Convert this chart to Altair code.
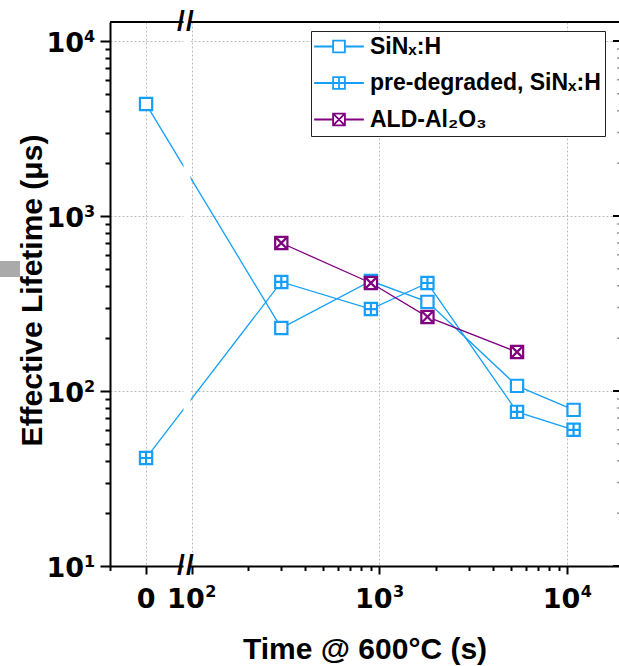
import altair as alt
import pandas as pd
import numpy as np

# ---------------- data ----------------
times = [0, 300, 900, 1800, 5400, 10800]
sinx_tau = [4360, 229, 425, 323, 107, 78]
pre_tau = [41.4, 420, 294, 414, 76, 60]
ald_times = [300, 900, 1800, 5400]
ald_tau = [701, 414, 265, 167]
series_names = ["SiNₓ:H", "pre-degraded, SiNₓ:H", "ALD-Al₂O₃"]
y_major = [10, 100, 1000, 10000]
y_exponents = ["1", "2", "3", "4"]
x_major_t = [100, 1000, 10000]
x_exponents = ["2", "3", "4"]
zero_label = "0"

# ---------------- layout constants ----------------
W, H = 509, 544
ZERO_POS = 1.757          # where t = 0 sits on the broken axis
X_MIN, X_MAX = 1.565, 4.2753
Y_MIN, Y_MAX = 10, 12840
BLUE = "#14A0F8"
PURPLE = "#800080"
FONT = "Liberation Sans"
TFONT = "DejaVu Sans"

rows = []
for t, v in zip(times, sinx_tau):
    rows.append(dict(series=series_names[0], t=t, tau=v))
for t, v in zip(times, pre_tau):
    rows.append(dict(series=series_names[1], t=t, tau=v))
for t, v in zip(ald_times, ald_tau):
    rows.append(dict(series=series_names[2], t=t, tau=v))
df = pd.DataFrame(rows)
df["xpos"] = [ZERO_POS if t == 0 else float(np.log10(t)) for t in df["t"]]

x_major = [ZERO_POS] + [float(np.log10(t)) for t in x_major_t]
x_minor = [X_MIN] + [float(np.log10(k * 10 ** n)) for n in (2, 3) for k in range(2, 10)]
y_minor = [k * 10 ** n for n in (1, 2, 3) for k in range(2, 10)]

x_major_test = "abs(datum.value - %r) < 1e-6 || datum.value == 2 || datum.value == 3 || datum.value == 4" % ZERO_POS
y_major_test = " || ".join("datum.value == %d" % v for v in y_major)

xscale = alt.Scale(domain=[X_MIN, X_MAX], nice=False, zero=False)
yscale = alt.Scale(type="log", domain=[Y_MIN, Y_MAX], nice=False)

xaxis = alt.Axis(
    values=sorted(x_major + x_minor), labels=False,
    tickSize={"condition": {"test": x_major_test, "value": 8}, "value": 4.5},
    grid=True, gridOpacity={"condition": {"test": x_major_test, "value": 1}, "value": 0},
    gridDash=[2, 2], gridColor="#bdbdbd", gridWidth=1,
    domainColor="black", domainWidth=2, tickColor="black", tickWidth=2,
    title="Time @ 600°C (s)", titleFont=FONT, titleFontSize=30, titleFontWeight="bold", titleColor="black",
    titleX=254.5, titleY=92, titleAlign="center", titleBaseline="alphabetic",
)
yaxis = alt.Axis(
    values=sorted(y_major + y_minor), labels=False,
    tickSize={"condition": {"test": y_major_test, "value": 10}, "value": 5},
    grid=True, gridOpacity={"condition": {"test": y_major_test, "value": 1}, "value": 0},
    gridDash=[2, 2], gridColor="#bdbdbd", gridWidth=1,
    domainColor="black", domainWidth=2, tickColor="black", tickWidth=2,
    title="Effective Lifetime (μs)", titleFont=FONT, titleFontSize=30, titleFontWeight="bold", titleColor="black",
    titleX=-69, titleY=268, titleAngle=270, titleAlign="center", titleBaseline="alphabetic",
)

X = alt.X("xpos:Q", scale=xscale, axis=xaxis)
Y = alt.Y("tau:Q", scale=yscale, axis=yaxis)

color_scale = alt.Scale(domain=series_names, range=[BLUE, BLUE, PURPLE])

SQ = "M-1,-1L1,-1L1,1L-1,1Z"
marker_paths = [SQ, SQ + "M0,-1L0,1M-1,0L1,0", SQ + "M-1,-1L1,1M1,-1L-1,1"]
LINE = "M-4.2,0L-1,0M1,0L4.2,0"
legend_paths = [LINE + p for p in marker_paths]
marker_colors = [BLUE, BLUE, PURPLE]

base = alt.Chart(df)

line_layers = []
point_layers = []
for name, path, col in zip(series_names, marker_paths, marker_colors):
    sub = base.transform_filter(alt.datum.series == name)
    line_layers.append(sub.mark_line(color=col, strokeWidth=1.3).encode(x=X, y=Y))
    point_layers.append(
        sub.mark_point(shape=path, size=150, filled=True, fill="white", fillOpacity=1,
                       stroke=col, strokeWidth=2.2, opacity=1)
        .encode(x=X, y=Y)
    )

legend_common = dict(
    orient="none", legendX=201, legendY=9, direction="vertical", title=None,
    padding=4, symbolOffset=12.5, labelOffset=19.5, rowPadding=12.5,
    strokeColor="#222222", fillColor="white",
    labelFont=FONT, labelFontSize=23, labelFontWeight="bold", labelColor="black",
    symbolSize=140, symbolStrokeWidth=1.8, labelLimit=400, symbolOpacity=1,
)
# legend-only layer: its points are placed off-canvas, only the legend is visible
legend_layer = alt.Chart(pd.DataFrame({"series": series_names})).mark_point(
    filled=False, opacity=1, strokeWidth=1.8
).encode(
    x=alt.value(-2000), y=alt.value(-2000),
    color=alt.Color("series:N", scale=color_scale, legend=alt.Legend(**legend_common)),
    shape=alt.Shape("series:N", scale=alt.Scale(domain=series_names, range=legend_paths),
                    legend=alt.Legend(**legend_common)),
)

# tick labels with superscript exponents
ylab_df = pd.DataFrame({"tau": y_major, "exp": y_exponents})
ylab_base = alt.Chart(ylab_df).mark_text(
    text="10", font=TFONT, fontSize=27, fontWeight="bold", color="black",
    align="right", baseline="alphabetic", dy=11
).encode(y=Y, x=alt.value(-26))
ylab_exp = alt.Chart(ylab_df).mark_text(
    font=TFONT, fontSize=16, fontWeight="bold", color="black",
    align="left", baseline="alphabetic", dy=1
).encode(y=Y, x=alt.value(-26), text="exp:N")

xlab_df = pd.DataFrame({"xpos": [float(np.log10(t)) for t in x_major_t], "exp": x_exponents})
xlab_base = alt.Chart(xlab_df).mark_text(
    text="10", font=TFONT, fontSize=27, fontWeight="bold", color="black",
    align="right", baseline="alphabetic", dx=13
).encode(x=X, y=alt.value(H + 42))
xlab_exp = alt.Chart(xlab_df).mark_text(
    font=TFONT, fontSize=16, fontWeight="bold", color="black",
    align="left", baseline="alphabetic", dx=13.5
).encode(x=X, y=alt.value(H + 31), text="exp:N")
xlab_zero = alt.Chart(pd.DataFrame({"xpos": [ZERO_POS], "lab": [zero_label]})).mark_text(
    font=TFONT, fontSize=27, fontWeight="bold", color="black", align="center", baseline="alphabetic"
).encode(x=X, y=alt.value(H + 42), text="lab:N")

# decorations: top frame, right inward ticks, axis break
top_line = alt.Chart(pd.DataFrame({"a": [0]})).mark_rule(color="black", strokeWidth=2).encode(
    x=alt.value(0), x2=alt.value(W), y=alt.value(0)
)
right_major = alt.Chart(pd.DataFrame({"tau": y_major})).mark_rule(color="black", strokeWidth=2).encode(
    y=Y, x=alt.value(W - 6), x2=alt.value(W)
)
right_minor = alt.Chart(pd.DataFrame({"tau": y_minor})).mark_rule(color="#999999", strokeWidth=1.5).encode(
    y=Y, x=alt.value(W - 2), x2=alt.value(W)
)
band = alt.Chart(pd.DataFrame({"xpos": [1.9563], "xpos2": [1.9936]})).mark_rect(color="white").encode(
    x=X, x2="xpos2:Q", y=alt.value(-3), y2=alt.value(H + 3)
)
slash_df = pd.DataFrame({"xpos": [1.9430, 1.9910]})
slashes_bottom = alt.Chart(slash_df).mark_text(
    text="/", font=FONT, fontSize=28, fontWeight="bold", color="black", baseline="middle", align="center"
).encode(x=X, y=alt.value(H))
slashes_top = alt.Chart(slash_df).mark_text(
    text="/", font=FONT, fontSize=28, fontWeight="bold", color="black", baseline="middle", align="center"
).encode(x=X, y=alt.value(0))
gray_block = alt.Chart(pd.DataFrame({"a": [0]})).mark_rect(color="#aaaaaa").encode(
    x=alt.value(-110), x2=alt.value(-90), y=alt.value(239), y2=alt.value(255)
)

chart = alt.layer(
    top_line, right_major, right_minor, *line_layers, *point_layers, band, slashes_bottom, slashes_top,
    ylab_base, ylab_exp, xlab_base, xlab_exp, xlab_zero, gray_block, legend_layer
).properties(
    width=W, height=H,
    padding={"left": 110, "top": 22, "right": 0, "bottom": 100},
    autosize=alt.AutoSizeParams(type="none"),
    background="white",
).configure_view(stroke=None)

chart.save("out.html", embed_options={"renderer": "svg", "actions": False})
